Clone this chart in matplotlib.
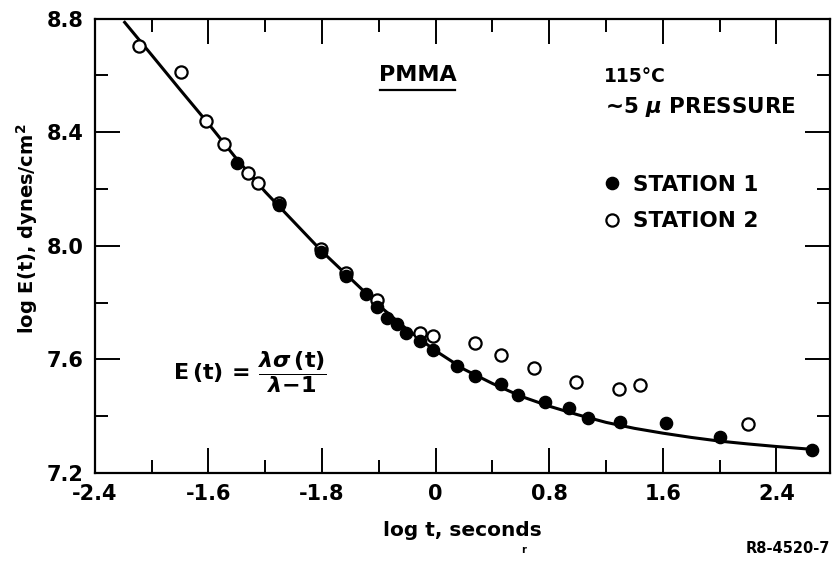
import matplotlib
matplotlib.use("Agg")
import matplotlib.pyplot as plt
import numpy as np

plt.rcParams.update({
    "font.family": "DejaVu Sans",
    "mathtext.fontset": "dejavusans",
    "font.size": 14,
    "font.weight": "bold",
    "axes.labelweight": "bold",
})

# station 1 (filled) and station 2 (open) points
ST1_LOGT = [-1.40, -1.10, -0.81, -0.63, -0.49, -0.41, -0.34, -0.27, -0.21,
            -0.11, -0.02, 0.15, 0.28, 0.46, 0.58, 0.77, 0.94, 1.07, 1.30,
            1.62, 2.00, 2.65]
ST1_LOGE = [8.293, 8.143, 7.978, 7.894, 7.831, 7.784, 7.747, 7.723, 7.692,
            7.665, 7.632, 7.575, 7.541, 7.512, 7.474, 7.451, 7.429, 7.394,
            7.378, 7.377, 7.326, 7.280]

ST2_LOGT = [-2.09, -1.79, -1.62, -1.49, -1.32, -1.25, -1.10, -0.81, -0.63,
            -0.41, -0.11, -0.02, 0.28, 0.46, 0.69, 0.99, 1.29, 1.44, 2.20]
ST2_LOGE = [8.702, 8.612, 8.440, 8.357, 8.258, 8.221, 8.150, 7.988, 7.905,
            7.808, 7.694, 7.682, 7.659, 7.615, 7.568, 7.519, 7.494, 7.508, 7.374]

# drawn smooth curve
CURVE_LOGT = [-2.19, -2.0, -1.8, -1.6, -1.4, -1.2, -1.0, -0.8, -0.6, -0.4,
              -0.2, 0.0, 0.2, 0.4, 0.6, 0.8, 1.0, 1.2, 1.4, 1.6, 1.8, 2.0,
              2.2, 2.4, 2.65]
CURVE_LOGE = [8.787, 8.672, 8.550, 8.430, 8.305, 8.190, 8.085, 7.980, 7.885,
              7.790, 7.705, 7.630, 7.565, 7.515, 7.470, 7.435, 7.405, 7.378,
              7.357, 7.340, 7.325, 7.312, 7.302, 7.293, 7.283]

XTICKS = [-2.4, -1.6, -0.8, 0.0, 0.8, 1.6, 2.4]
XTICK_LABELS = ["-2.4", "-1.6", "-1.8", "0", "0.8", "1.6", "2.4"]
YTICKS = [7.2, 7.6, 8.0, 8.4, 8.8]
YTICK_LABELS = ["7.2", "7.6", "8.0", "8.4", "8.8"]

fig = plt.figure(figsize=(8.32, 5.65), dpi=100)
ax = fig.add_axes([0.114, 0.163, 0.884, 0.804])

ax.plot(CURVE_LOGT, CURVE_LOGE, color="black", lw=2.2, zorder=1)
ax.plot(ST2_LOGT, ST2_LOGE, "o", ms=8.8, mfc="white", mec="black", mew=1.6,
        label="STATION 2", zorder=2)
ax.plot(ST1_LOGT, ST1_LOGE, "o", ms=8.8, mfc="black", mec="black",
        label="STATION 1", zorder=3)

ax.set_xlim(-2.4, 2.78)
ax.set_ylim(7.2, 8.8)
ax.set_xticks(XTICKS)
ax.set_xticklabels(XTICK_LABELS)
ax.set_yticks(YTICKS)
ax.set_yticklabels(YTICK_LABELS)
ax.set_xticks(np.arange(-2.0, 2.8, 0.8), minor=True)
ax.set_yticks(np.arange(7.4, 8.8, 0.4), minor=True)
ax.tick_params(which="both", direction="in", top=True, right=True, width=1.4,
               labelsize=15, pad=8)
ax.tick_params(which="major", length=18)
ax.tick_params(which="minor", length=9.5)
for s in ax.spines.values():
    s.set_linewidth(1.6)

ax.set_xlabel("log t, seconds", fontsize=14.5, labelpad=12)
ax.set_ylabel("log E(t), dynes/cm$^\\mathbf{2}$", fontsize=14, labelpad=10)
ax.yaxis.set_label_coords(-0.074, 0.537)

# annotations
ax.text(-0.128, 8.603, "PMMA", ha="center", va="center", fontsize=16)
ax.plot([-0.39, 0.14], [8.55, 8.55], color="black", lw=1.6)
ax.text(1.183, 8.595, "115°C", ha="left", va="center", fontsize=13.5)
ax.text(1.19, 8.49, "~5 $\\mu$ PRESSURE", ha="left", va="center", fontsize=15.5)
ax.text(-1.85, 7.555,
        r"$\mathbf{E\,(t)}\,=\,\dfrac{\lambda\sigma\,\mathbf{(t)}}{\lambda\mathbf{-1}}$",
        ha="left", va="center", fontsize=16)

handles, labels = ax.get_legend_handles_labels()
ax.legend(handles[::-1], labels[::-1], loc="upper left",
          bbox_to_anchor=(0.68, 0.675), frameon=False, fontsize=15.5,
          handlelength=0.8, handletextpad=0.55, labelspacing=0.75,
          borderaxespad=0)

fig.text(0.997, 0.030, "R8-4520-7", ha="right", va="center", fontsize=10.5,
         weight="bold")
fig.text(0.629, 0.027, "r", ha="center", va="center", fontsize=7)

fig.savefig("out.png", dpi=100)
